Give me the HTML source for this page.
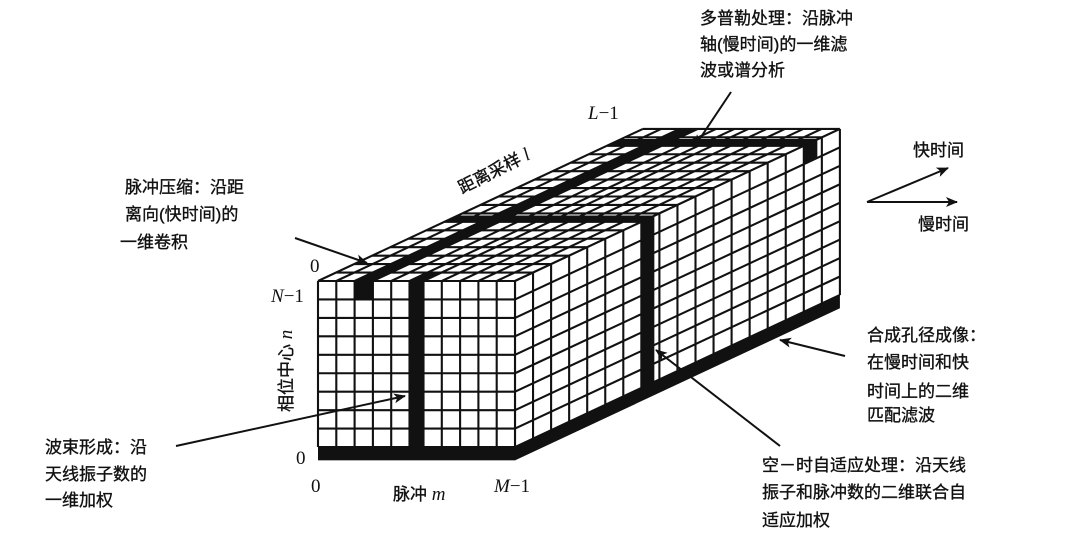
<!DOCTYPE html>
<html><head><meta charset="utf-8"><style>
html,body{margin:0;padding:0;background:#fff;}
svg{display:block;}
.t{font-family:"Liberation Sans","Noto Sans CJK SC",sans-serif;font-size:17px;fill:#111;stroke:#111;stroke-width:0.35;}
.s{font-family:"Liberation Serif","Noto Serif CJK SC",serif;font-size:19px;fill:#111;}
.i{font-style:italic;}
</style></head><body>
<svg width="1080" height="536" viewBox="0 0 1080 536" xmlns="http://www.w3.org/2000/svg">
<defs>
<marker id="ah" markerWidth="12" markerHeight="10" refX="11" refY="5" orient="auto" markerUnits="userSpaceOnUse">
<path d="M0,0 L12,5 L0,10 L3,5 Z" fill="#111"/></marker>
</defs>
<!-- TOP FACE: u=pixels along m, v=depth (0..18) -->
<g transform="matrix(1 0 18.05 -8.45 318 281)">
<rect x="0" y="0" width="197" height="18" fill="#fff"/>
<path vector-effect="non-scaling-stroke" stroke="#111" stroke-width="2.1" fill="none"
d="M0 0V18M18.3 0V18M36.6 0V18M54.9 0V18M73.2 0V18M91.5 0V18M105.5 0V18M123.8 0V18M142.1 0V18M160.4 0V18M178.7 0V18M197 0V18
M0 0H197M0 1H197M0 2H197M0 3H197M0 4H197M0 5H197M0 6H197M0 7H197M0 8H197M0 9H197M0 10H197M0 11H197M0 12H197M0 13H197M0 14H197M0 15H197M0 16H197M0 17H197M0 18H197"/>
<rect x="36.6" y="0" width="18.3" height="18" fill="#111"/>
<rect x="91.5" y="0" width="14" height="1" fill="#111"/>
<rect x="0" y="7" width="197" height="0.75" fill="#111"/>
<rect x="0" y="16" width="197" height="0.8" fill="#111"/>
</g>
<!-- RIGHT FACE -->
<g transform="matrix(18.05 -8.45 0 18.45 515 281)">
<rect x="0" y="0" width="18" height="9.7" fill="#fff"/>
<path vector-effect="non-scaling-stroke" stroke="#111" stroke-width="2.1" fill="none"
d="M0 0V9M1 0V9M2 0V9M3 0V9M4 0V9M5 0V9M6 0V9M7 0V9M8 0V9M9 0V9M10 0V9M11 0V9M12 0V9M13 0V9M14 0V9M15 0V9M16 0V9M17 0V9M18 0V9
M0 0H18M0 1H18M0 2H18M0 3H18M0 4H18M0 5H18M0 6H18M0 7H18M0 8H18M0 9H18"/>
<rect x="0" y="9" width="18" height="0.72" fill="#111"/>
<rect x="7" y="0" width="0.72" height="9" fill="#111"/>
<rect x="16" y="0" width="0.75" height="1" fill="#111"/>
</g>
<!-- FRONT FACE -->
<g transform="matrix(1 0 0 18.45 318 281)">
<rect x="0" y="0" width="197" height="9.7" fill="#fff"/>
<path vector-effect="non-scaling-stroke" stroke="#111" stroke-width="2.1" fill="none"
d="M0 0V9M18.3 0V9M36.6 0V9M54.9 0V9M73.2 0V9M91.5 0V9M105.5 0V9M123.8 0V9M142.1 0V9M160.4 0V9M178.7 0V9M197 0V9
M0 0H197M0 1H197M0 2H197M0 3H197M0 4H197M0 5H197M0 6H197M0 7H197M0 8H197M0 9H197"/>
<rect x="36.6" y="0" width="18.3" height="1" fill="#111"/>
<rect x="91.5" y="0" width="14" height="9" fill="#111"/>
<rect x="0" y="9" width="197" height="0.72" fill="#111"/>
</g>

<!-- axis labels -->
<text class="s" x="310" y="272">0</text>
<text class="s" x="271" y="302"><tspan class="i">N</tspan>−1</text>
<text class="s" x="296" y="464">0</text>
<text class="s" x="311" y="492">0</text>
<text class="t" x="393" y="500">脉冲 <tspan class="s i" stroke-width="0">m</tspan></text>
<text class="s" x="494" y="492"><tspan class="i">M</tspan>−1</text>
<text class="s" x="588" y="119"><tspan class="i">L</tspan>−1</text>
<text class="t" transform="translate(292,412) rotate(-90)">相位中心 <tspan class="s i" stroke-width="0">n</tspan></text>
<text class="t" transform="translate(462,194) rotate(-27)">距离采样 <tspan class="s i" stroke-width="0">l</tspan></text>

<!-- annotations -->
<g class="t">
<text x="125" y="193">脉冲压缩：沿距</text>
<text x="125" y="220">离向(快时间)的</text>
<text x="120" y="248">一维卷积</text>
<text x="45" y="453">波束形成：沿</text>
<text x="45" y="480">天线振子数的</text>
<text x="45" y="506">一维加权</text>
<text x="700" y="24">多普勒处理：沿脉冲</text>
<text x="700" y="50">轴(慢时间)的一维滤</text>
<text x="700" y="76">波或谱分析</text>
<text x="913" y="156">快时间</text>
<text x="918" y="230">慢时间</text>
<text x="867" y="341">合成孔径成像：</text>
<text x="867" y="368">在慢时间和快</text>
<text x="867" y="397">时间上的二维</text>
<text x="867" y="421">匹配滤波</text>
<text x="762" y="471">空－时自适应处理：沿天线</text>
<text x="762" y="498">振子和脉冲数的二维联合自</text>
<text x="762" y="526">适应加权</text>
</g>

<!-- arrows -->
<g stroke="#111" stroke-width="2" fill="none" marker-end="url(#ah)">
<line x1="295" y1="238" x2="367" y2="263"/>
<line x1="176" y1="446" x2="405" y2="396"/>
<line x1="731" y1="92" x2="695" y2="146"/>
<line x1="867" y1="202" x2="948" y2="168"/>
<line x1="867" y1="202" x2="957" y2="202"/>
<line x1="845" y1="356" x2="780" y2="340"/>
<line x1="780" y1="446" x2="656" y2="350"/>
</g>
</svg>
</body></html>
